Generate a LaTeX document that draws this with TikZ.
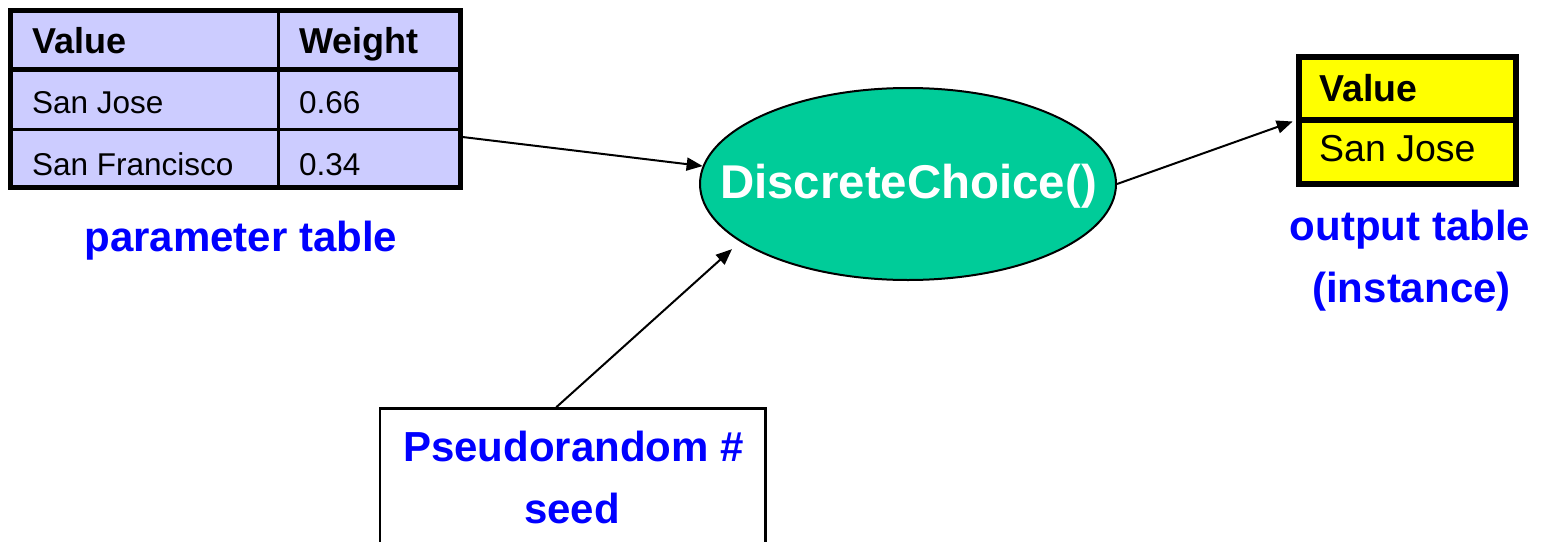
\documentclass[tikz,border=0pt]{standalone}
\usepackage{fontspec}
\setmainfont{Liberation Sans}
\usetikzlibrary{arrows.meta,shapes.geometric}
\definecolor{lavender}{RGB}{204,204,255}
\definecolor{opyellow}{RGB}{255,255,0}
\definecolor{opgreen}{RGB}{0,204,153}
\definecolor{lblue}{RGB}{0,0,255}
\newcommand{\fs}[1]{\fontsize{#1}{#1}\selectfont}
\tikzset{
  tablebox/.style={draw=black, line width=5pt, rectangle, inner sep=0pt},
  rowline/.style={draw=black, line width=3pt},
  headline/.style={draw=black, line width=5pt},
  cellhead/.style={anchor=base west, inner sep=0pt, font=\fs{36}\bfseries},
  cellbody/.style={anchor=base west, inner sep=0pt, font=\fs{31.5}},
  bluelabel/.style={anchor=base, inner sep=0pt, text=lblue, font=\fs{42}\bfseries},
  funcnode/.style={ellipse, draw=black, line width=2pt, fill=opgreen, inner sep=0pt},
  seedbox/.style={rectangle, draw=black, line width=2.5pt, inner sep=0pt},
  arr/.style={draw=black, line width=2pt, -{Triangle[length=16pt,width=13pt]}},
}
\begin{document}
\begin{tikzpicture}[x=1pt,y=-1pt]
  \useasboundingbox[fill=white] (0,0) rectangle (1541,541);

  % parameter table
  \node[tablebox, fill=lavender, minimum width=449.5pt, minimum height=177pt] (ptab) at (235.25,98.5) {};
  \draw[headline] (10.5,69.5) -- (460,69.5);
  \draw[rowline] (10.5,129.5) -- (460,129.5);
  \draw[rowline] (278.5,10) -- (278.5,187);
  \node[cellhead] (ph1) at (32,53) {Value};
  \node[cellhead] (ph2) at (299,53) {Weight};
  \node[cellbody] (pv1) at (32,113) {San Jose};
  \node[cellbody] (pw1) at (299,113) {0.66};
  \node[cellbody] (pv2) at (32,175) {San Francisco};
  \node[cellbody] (pw2) at (299,175) {0.34};
  \node[bluelabel] (plabel) at (241,251.5) {parameter table};

  % chooser
  \node[funcnode, minimum width=416pt, minimum height=192pt] (dc) at (908,184) {};
  \node[anchor=base, inner sep=0pt, text=white, font=\fs{47.4}\bfseries] (dctext) at (908.5,198) {DiscreteChoice()};

  % output table
  \node[tablebox, line width=6pt, fill=opyellow, minimum width=217.5pt, minimum height=127pt] (otab) at (1407.25,120.5) {};
  \draw[headline, line width=6pt] (1298.5,120) -- (1516,120);
  \node[cellhead, font=\fs{37.5}\bfseries] (oh1) at (1319,101.5) {Value};
  \node[cellbody, font=\fs{37.5}] (ov1) at (1319,161.5) {San Jose};
  \node[bluelabel] (olabel1) at (1410,240) {output table};
  \node[bluelabel] (olabel2) at (1411.5,302) {(instance)};

  % seed box
  \node[seedbox, minimum width=385.5pt, minimum height=191pt] (seed) at (572.75,504) {};
  \node[bluelabel] (seedt1) at (573.5,461.7) {Pseudorandom \#};
  \node[bluelabel] (seedt2) at (572,523) {seed};

  % connectors
  \draw[arr] ([yshift=-38.5pt]ptab.east) -- (dc.175.6);
  \draw[arr, shorten >=11pt] ([xshift=-16.5pt]seed.north) -- (dc.199);
  \draw[arr, shorten >=3pt] (dc.east) -- (otab.west);
\end{tikzpicture}
\end{document}
